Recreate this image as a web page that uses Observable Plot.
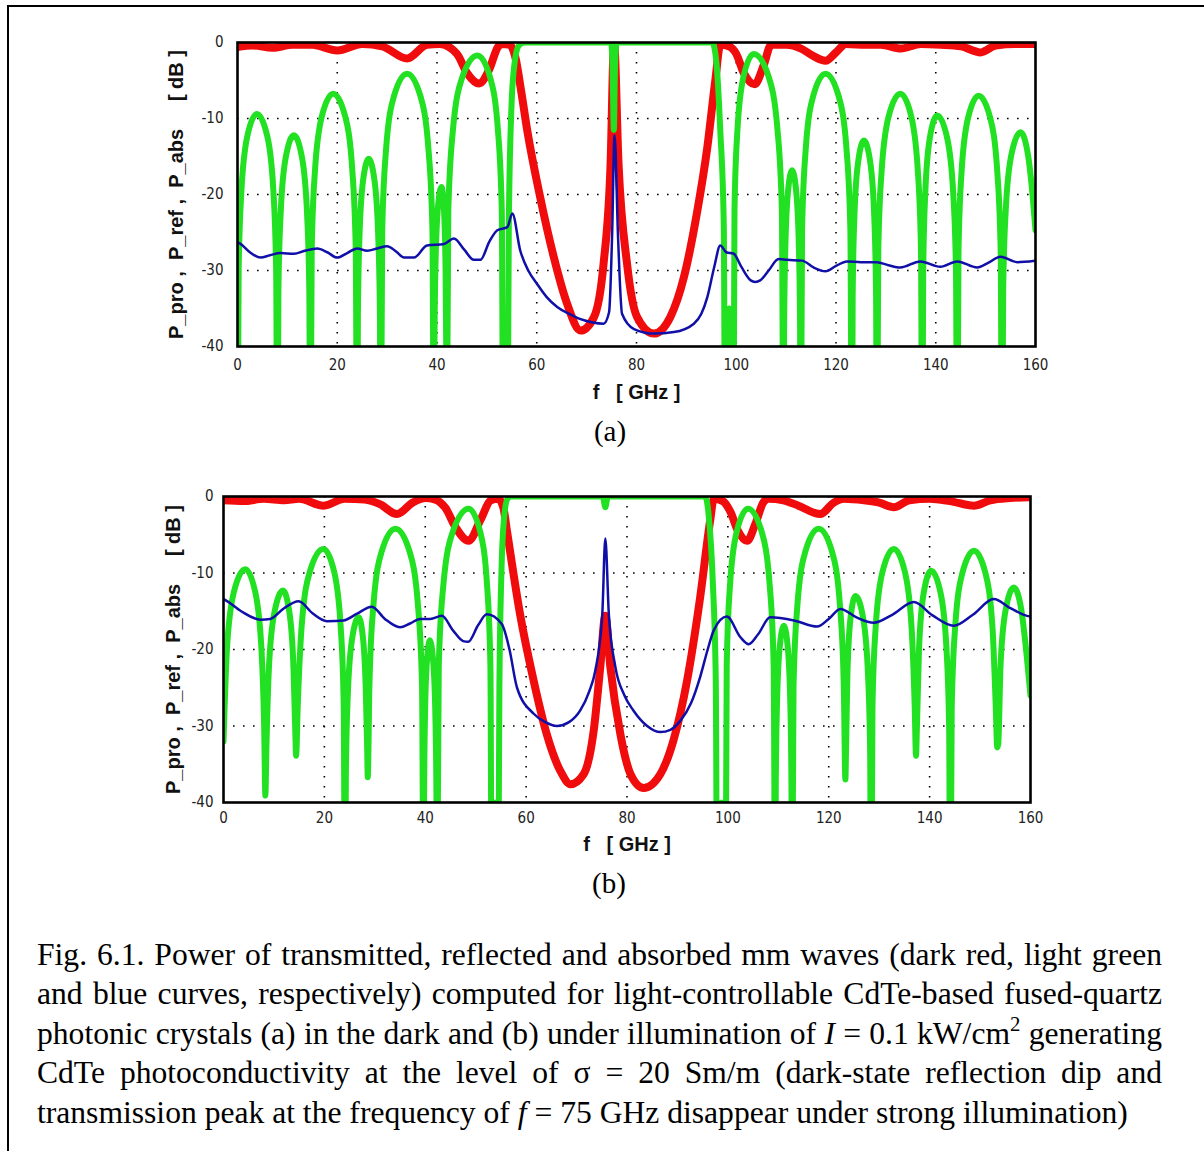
<!DOCTYPE html>
<html>
<head>
<meta charset="utf-8">
<script src="https://cdn.jsdelivr.net/npm/d3@7"></script>
<script src="https://cdn.jsdelivr.net/npm/@observablehq/plot@0.6"></script>
<style>
  html, body { margin: 0; padding: 0; background: #fff; overflow: hidden; width: 1204px; height: 1151px; }
  #frame { position: absolute; left: 7px; top: 5px; width: 1400px; height: 1400px; border-left: 2px solid #000; border-top: 2px solid #000; }
  .chart { position: absolute; left: 150px; }
  .sub { position: absolute; font-family: "Liberation Serif", "Times New Roman", serif; font-size: 29px; color: #000; transform: translate(-50%, -50%); white-space: nowrap; }
  #cap { position: absolute; left: 37px; width: 1125px; top: 935px; font-family: "Liberation Serif", "Times New Roman", serif; font-size: 31.6px; line-height: 39.4px; text-align: justify; color: #000; }
  #cap sup { font-size: 0.66em; line-height: 0; vertical-align: 0.62em; }
</style>
</head>
<body>
<div id="frame"></div>
<div id="top" class="chart" style="top:30px"></div>
<div class="sub" style="left:610px; top:431px">(a)</div>
<div id="bottom" class="chart" style="top:484px"></div>
<div class="sub" style="left:609px; top:883px">(b)</div>
<div id="cap">Fig. 6.1. Power of transmitted, reflected and absorbed mm waves (dark red, light green and blue curves, respectively) computed for light-controllable CdTe-based fused-quartz photonic crystals (a) in the dark and (b) under illumination of <i>I</i> = 0.1 kW/cm<sup>2</sup> generating CdTe photoconductivity at the level of σ = 20 Sm/m (dark-state reflection dip and transmission peak at the frequency of <i>f</i> = 75 GHz disappear under strong illumination)</div>
<script>
// ---------- axis ticks & labels ----------
const xTicks = [0, 20, 40, 60, 80, 100, 120, 140, 160];
const yTicks = [0, -10, -20, -30, -40];
const xGrid = [20, 40, 60, 80, 100, 120, 140];
const yGrid = [-10, -20, -30];
const xLabel = "f\u00a0\u00a0 [ GHz ]";
const yLabel = "P_pro ,\u00a0 P_ref ,\u00a0 P_abs\u00a0\u00a0\u00a0\u00a0 [ dB ]";

// ---------- (a) dark state: [f GHz, dB] ----------
const darkTransmitted = [[0,-0.6],[3,-0.4],[7,-0.7],[11,-0.3],[15,-0.3],[20,-1.05],[25,-0.2],[29,-0.5],[34,-2.1],[38,-0.3],[40.5,-0.2],[44,-1.5],[46,-4],[48.4,-5.4],[50.5,-3.5],[52.2,-0.6],[53,-0.2],[54.6,-0.3],[55.7,-1.9],[56.9,-6.5],[58.1,-11.6],[60.7,-20.4],[63.4,-28.2],[66.1,-34.4],[68.8,-37.9],[71.5,-36.1],[73.4,-29.1],[74.8,-16],[75.5,0],[76.4,-16],[78.1,-29.1],[80.1,-36.1],[83.5,-38.3],[86.8,-36.1],[89.5,-30.9],[92.1,-22.5],[94.2,-13.8],[95.8,-5],[96.8,-0.3],[98.5,-0.5],[100,-1.5],[101.5,-4],[103.7,-5.5],[105.5,-3],[107,-0.3],[110,-0.3],[113,-0.8],[115.5,-1.8],[117.9,-2.4],[120,-1.3],[122,-0.2],[126,-0.3],[129,-0.3],[133,-0.8],[137,-0.2],[141,-0.3],[145,-0.5],[149,-1.3],[152,-0.4],[156,-0.2],[160,-0.2]];

const darkReflected = [[0,-60],[0.23,-29.9],[0.78,-19.6],[1.95,-12.4],[3.9,-9.4],[6.0,-12.4],[7.2,-19.6],[7.75,-29.9],[8.0,-60],
[8.2,-32.7],[8.66,-22.4],[9.65,-15.2],[11.3,-12.2],[12.95,-15.2],[13.94,-22.4],[14.4,-32.7],[14.6,-60],
[14.88,-27.3],[15.52,-17.0],[16.9,-9.75],[19.2,-6.75],[21.6,-9.75],[23.04,-17.0],[23.71,-27.3],[24.0,-60],
[24.14,-35.8],[24.46,-25.5],[25.15,-18.3],[26.3,-15.3],[27.5,-18.3],[28.22,-25.5],[28.56,-35.8],[28.7,-60],
[29.02,-24.6],[29.76,-14.3],[31.35,-7.1],[34.0,-4.1],[36.7,-7.1],[38.32,-14.3],[39.08,-24.6],[39.4,-60],
[39.49,-39.5],[39.7,-29.2],[40.15,-22.0],[40.9,-19.0],[41.4,-22.0],[41.7,-29.2],[41.84,-39.5],[41.9,-60],
[42.27,-22.2],[43.14,-11.9],[45.0,-4.7],[48.1,-1.7],[50.7,-4.7],[52.26,-11.9],[52.99,-22.2],[53.3,-60],
[53.7,-36],[54.1,-60],[54.4,-24],[54.9,-9],[55.5,-3],[56.4,-0.4],[57.5,0],
[74.9,0],[75.2,-3],[75.45,-11.5],[75.7,-3],[76.0,0],
[95.2,0],[96.0,-2.5],[96.8,-11.6],[97.5,-24],[97.8,-60],[98.6,-35],[99.4,-60],
[99.65,-22.0],[100.22,-11.7],[101.45,-4.5],[103.5,-1.5],[106.5,-4.5],[108.3,-11.7],[109.14,-22.0],[109.5,-60],
[109.6,-37.3],[109.84,-27.0],[110.35,-19.8],[111.2,-16.8],[112.05,-19.8],[112.56,-27.0],[112.8,-37.3],[112.9,-60],
[113.2,-24.6],[113.9,-14.3],[115.4,-7.1],[117.9,-4.1],[120.55,-7.1],[122.14,-14.3],[122.88,-24.6],[123.2,-60],
[123.34,-33.4],[123.68,-23.1],[124.4,-15.9],[125.6,-12.9],[126.9,-15.9],[127.68,-23.1],[128.04,-33.4],[128.2,-60],
[128.48,-27.3],[129.14,-17.0],[130.55,-9.75],[132.9,-6.75],[135.1,-9.75],[136.42,-17.0],[137.04,-27.3],[137.3,-60],
[137.48,-30.1],[137.9,-19.8],[138.8,-12.6],[140.3,-9.6],[142.3,-12.6],[143.5,-19.8],[144.06,-30.1],[144.3,-60],
[144.56,-27.5],[145.16,-17.2],[146.45,-10.0],[148.6,-7.0],[150.95,-10.0],[152.36,-17.2],[153.02,-27.5],[153.3,-60],
[153.52,-32.3],[154.04,-22.0],[155.15,-14.8],[157.0,-11.8],[158.5,-14.8],[159.4,-20],[160,-24.7]];

const darkAbsorbed = [[0,-26.3],[0.6,-26.5],[2.5,-27.6],[4.6,-28.3],[6.5,-28.0],[8.6,-27.7],[11.3,-27.8],[13.5,-27.4],[16.0,-27.1],[18,-27.6],[20.0,-28.3],[22,-27.7],[24.0,-27.1],[26,-27.4],[28,-27.1],[30.0,-26.8],[31.8,-27.5],[33.4,-28.3],[35.4,-28.3],[38.0,-26.7],[41.4,-26.5],[43.4,-25.8],[45.5,-27.3],[47.4,-28.6],[48.7,-28.6],[50.5,-26.2],[52.1,-24.7],[54.1,-24.3],[55.1,-22.5],[56.7,-27.4],[58.3,-30.0],[60.1,-31.8],[62,-33.5],[64.1,-34.8],[66.5,-35.7],[68.8,-36.4],[71,-36.8],[73.4,-37.0],[74.5,-35.5],[75.1,-25.6],[75.6,-12.2],[76.3,-25.6],[77.1,-35.7],[79.5,-37.7],[83.5,-38.3],[87.5,-38.1],[91.5,-37.0],[93,-35.7],[94.2,-33.5],[95.6,-29.5],[96.8,-26.7],[98,-27.6],[99.5,-27.8],[101,-29.5],[102.9,-31.3],[103.8,-31.5],[104.8,-31.3],[106.5,-30],[108.5,-28.5],[110.2,-28.6],[113.2,-28.7],[115.5,-29.6],[117.9,-30.1],[120,-29.4],[122.2,-28.8],[125,-28.9],[128.2,-28.9],[130.5,-29.3],[132.9,-29.6],[136.9,-28.8],[140.9,-29.5],[144.3,-28.8],[148.3,-29.6],[150.5,-29.0],[153,-28.2],[156.3,-28.9],[160,-28.7]];

// ---------- (b) illuminated: [f GHz, dB] ----------
const litTransmitted = [[0,-0.5],[4,-0.6],[8,-0.3],[12,-0.5],[15,-0.3],[19.8,-1.2],[24,-0.3],[28,-0.4],[31,-1.0],[34.4,-2.3],[37.5,-0.8],[40,-0.2],[42,-0.4],[44,-1.5],[46,-4],[48.6,-5.8],[51,-3],[53,-0.5],[54.5,-0.3],[55.5,-1.5],[56.2,-4.5],[58.8,-15.4],[61.5,-24.1],[64.1,-31.1],[66.8,-35.9],[68.8,-37.6],[71.4,-36.3],[73.4,-30.6],[74.7,-22.3],[75.7,-15.6],[76.7,-22.3],[78.7,-31.1],[80.7,-36.3],[83.3,-38.1],[86.6,-36.3],[89.2,-31.9],[91.9,-24.1],[94.5,-13.2],[96.5,-3.1],[97.2,-0.3],[99,-0.6],[100.5,-2],[102,-4.5],[103.8,-5.8],[105.5,-3.5],[107,-0.8],[108,-0.3],[111,-0.5],[114,-1.2],[118.3,-2.3],[121,-0.8],[123,-0.3],[127,-0.5],[130,-0.8],[132.9,-1.4],[136,-0.5],[140,-0.3],[144,-0.6],[148.8,-1.2],[152,-0.5],[156,-0.2],[160,-0.1]];

const litReflected = [[0,-32],[0.7,-19.7],[2.05,-12.5],[4.3,-9.5],[6.3,-12.5],[7.5,-19.7],[8.06,-30],[8.3,-39.1],
[8.51,-32.8],[9.0,-22.5],[10.05,-15.3],[11.8,-12.3],[13.1,-15.3],[13.88,-22.5],[14.24,-31],[14.4,-33.9],
[14.72,-27.4],[15.48,-17.1],[17.1,-9.85],[19.8,-6.85],[21.95,-9.85],[23.24,-17.1],[23.84,-27.4],[24.1,-60],
[24.26,-36.3],[24.64,-26.0],[25.45,-18.8],[26.8,-15.8],[27.7,-18.8],[28.24,-26.0],[28.49,-33],[28.6,-36.7],
[28.93,-24.7],[29.7,-14.4],[31.35,-7.2],[34.1,-4.2],[36.9,-7.2],[38.58,-14.4],[39.36,-24.7],[39.7,-60],
[39.77,-39.3],[39.94,-29.0],[40.3,-21.8],[40.9,-18.8],[41.6,-21.8],[42.02,-29.0],[42.22,-39.3],[42.3,-60],
[42.68,-22.1],[43.56,-11.8],[45.45,-4.6],[48.6,-1.6],[50.9,-4.6],[52.28,-11.8],[52.92,-22.1],[53.2,-60],
[53.8,-40],[54.4,-60],[54.7,-25],[55.1,-10],[55.6,-3],[56.3,-0.3],[57,0],
[75.2,0],[75.7,-1.4],[76.2,0],
[95.5,0],[96.2,-2.5],[97.0,-11],[97.6,-24],[97.9,-60],[98.7,-40],[99.5,-60],
[99.77,-22.1],[100.4,-11.8],[101.75,-4.6],[104.0,-1.6],[106.7,-4.6],[108.32,-11.8],[109.08,-22.1],[109.4,-60],
[109.5,-37.4],[109.74,-27.1],[110.25,-19.9],[111.1,-16.9],[111.9,-19.9],[112.38,-27.1],[112.6,-37.4],[112.7,-60],
[113.02,-24.7],[113.76,-14.4],[115.35,-7.2],[118.0,-4.2],[120.65,-7.2],[122.24,-14.4],[122.98,-24.7],[123.3,-37.0],
[123.42,-33.5],[123.7,-23.2],[124.3,-16.0],[125.3,-13.0],[126.85,-16.0],[127.78,-23.2],[128.21,-33.5],[128.4,-60],
[128.67,-27.4],[129.3,-17.1],[130.65,-9.85],[132.9,-6.85],[135.1,-9.85],[136.42,-17.1],[137.04,-27.4],[137.3,-33.9],
[137.48,-30.2],[137.9,-19.9],[138.8,-12.7],[140.3,-9.7],[142.2,-12.7],[143.34,-19.9],[143.87,-30.2],[144.1,-60],
[144.38,-27.6],[145.04,-17.3],[146.45,-10.1],[148.8,-7.1],[151.1,-10.1],[152.48,-17.3],[153.12,-27.6],[153.4,-32.8],
[153.6,-32.4],[154.06,-22.1],[155.05,-14.9],[156.7,-11.9],[158.2,-14.9],[159.2,-20.5],[160,-26]];

const litAbsorbed = [[0,-13.4],[0.3,-13.5],[3.5,-15.0],[7.3,-16.1],[9.3,-16.0],[12,-14.6],[14.9,-13.7],[17.7,-15.3],[20.5,-16.3],[23.8,-16.2],[26.5,-15.3],[29.4,-14.4],[32,-16.0],[35.0,-17.1],[37,-16.6],[39.0,-16.0],[41,-16.0],[43.3,-15.6],[45.5,-17.5],[47.5,-18.9],[48.5,-19.0],[50.5,-16.8],[52.2,-15.4],[55.2,-16.7],[56.7,-20],[58.2,-25.0],[61.5,-28.4],[63.8,-29.5],[66.1,-30.0],[68.5,-29.5],[70.7,-28.0],[72.5,-25.5],[73.7,-22.8],[75.1,-15.4],[75.7,-5.5],[76.4,-15.4],[77.7,-22.3],[79.5,-26],[81.3,-28.0],[84,-30],[86.6,-30.8],[88.6,-30.5],[90.6,-29.3],[92.7,-27],[94.5,-23.6],[96,-20],[97.2,-17.5],[99.8,-15.7],[102.5,-18.4],[104.1,-19.3],[106,-18],[108.4,-15.8],[113.1,-16.2],[117.7,-17.0],[120,-16],[122.3,-14.7],[125.5,-15.8],[128.9,-16.5],[132.5,-15.5],[136.9,-13.8],[140.5,-15.5],[144.8,-16.9],[148.5,-15.5],[152.7,-13.4],[156,-14.6],[159.3,-15.6],[160,-15.7]];

// ---------- styling ----------
const RED = "#f00c0c", GREEN = "#22e022", BLUE = "#1010a8";
const tickFont = "'Liberation Sans Narrow', 'DejaVu Sans Condensed', 'Liberation Sans', sans-serif";
const labelFont = "'Liberation Sans', Arial, sans-serif";

function chart(trans, refl, abs, m) {
  return Plot.plot({
    width: 910, height: 380,
    marginLeft: m.left, marginRight: m.right, marginTop: m.top, marginBottom: m.bottom,
    style: { fontFamily: tickFont, fontSize: "15px", color: "#222", background: "transparent", overflow: "visible" },
    x: { domain: [0, 160] },
    y: { domain: [-40, 0] },
    marks: [
      Plot.gridX(xGrid, { stroke: "#000", strokeOpacity: 1, strokeWidth: 1.6, strokeDasharray: "1.6,8.4" }),
      Plot.gridY(yGrid, { stroke: "#000", strokeOpacity: 1, strokeWidth: 1.6, strokeDasharray: "1.6,8.4" }),
      Plot.line(trans, { x: d => d[0], y: d => d[1], stroke: RED, strokeWidth: 8, curve: "monotone-x", clip: true, strokeLinejoin: "round" }),
      Plot.line(refl, { x: d => d[0], y: d => d[1], stroke: GREEN, strokeWidth: 6, curve: "monotone-x", clip: true, strokeLinejoin: "round" }),
      Plot.line(abs, { x: d => d[0], y: d => d[1], stroke: BLUE, strokeWidth: 2.5, curve: "monotone-x", clip: true }),
      Plot.frame({ stroke: "#000", strokeWidth: 2.6 }),
      Plot.axisX(xTicks, { tickSize: 0, tickPadding: m.xPad, tickFormat: d => String(d), label: null }),
      Plot.axisY(yTicks, { tickSize: 0, tickPadding: m.yPad, tickFormat: d => String(d), label: null }),
      Plot.text([yLabel], { text: d => d, frameAnchor: "left", dx: -m.yLabelDx, rotate: -90, textAnchor: "middle", lineAnchor: "middle", fontFamily: labelFont, fontWeight: "bold", fontSize: 20, fill: "#111" }),
      Plot.text([xLabel], { text: d => d, frameAnchor: "bottom", dy: m.xLabelDy, textAnchor: "middle", lineAnchor: "middle", fontFamily: labelFont, fontWeight: "bold", fontSize: 20, fill: "#111" })
    ]
  });
}

document.getElementById("top").append(chart(darkTransmitted, darkReflected, darkAbsorbed,
  { left: 87, right: 25, top: 12, bottom: 64, xPad: 13, yPad: 14, yLabelDx: 61, xLabelDy: 46 }));
document.getElementById("bottom").append(chart(litTransmitted, litReflected, litAbsorbed,
  { left: 73, right: 30, top: 12, bottom: 62, xPad: 10, yPad: 10, yLabelDx: 50, xLabelDy: 42 }));
</script>
</body>
</html>
